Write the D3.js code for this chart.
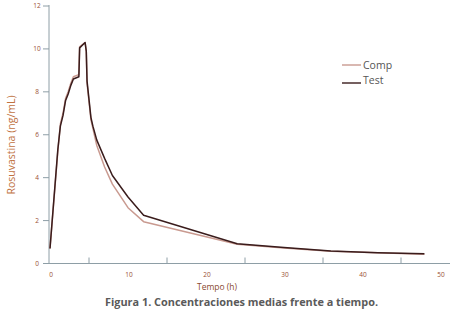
<!DOCTYPE html>
<html>
<head>
<meta charset="utf-8">
<script src="https://cdn.jsdelivr.net/npm/d3@7"></script>
<style>
  body { margin: 0; background: #fff; }
  text { font-family: "Open Sans", "DejaVu Sans", sans-serif; }
</style>
</head>
<body>
<div class="chart"></div>
<script>
var width = 463,
    height = 320;

// tiempos (h) y concentraciones medias (ng/mL)
var times = [0, 1, 1.33, 1.67, 2, 2.33, 2.67, 3, 3.7, 3.8, 4.5, 4.65, 4.75, 5.25, 5.5, 6, 7, 8, 10, 12, 24, 30, 36, 42, 48];
var test  = [0.7, 5.3, 6.4, 6.9, 7.6, 7.9, 8.3, 8.6, 8.7, 10.05, 10.3, 9.9, 8.5, 6.8, 6.4, 5.75, 4.9, 4.1, 3.1, 2.25, 0.92, 0.74, 0.58, 0.5, 0.45];
var comp  = [0.7, 5.2, 6.5, 7.0, 7.7, 8.0, 8.4, 8.7, 8.8, 10.1, 10.3, 9.9, 8.4, 6.7, 6.3, 5.5, 4.5, 3.7, 2.6, 1.95, 0.9, 0.72, 0.57, 0.5, 0.43];

var xLabels = [0, 10, 20, 30, 40, 50];
var xMinor = [5, 15, 25, 35, 45];
var yLabels = [0, 2, 4, 6, 8, 10, 12];

var series = [
  {name: "Comp", values: comp, color: "#c99a90"},
  {name: "Test", values: test, color: "#3a1c1c"}
];

var svg = d3.select(".chart").append("svg")
    .attr("width", width)
    .attr("height", height);

var x = d3.scaleLinear().domain([0, 50]).range([50, 440]);
var y = d3.scaleLinear().domain([0, 12]).range([263.5, 6]);

var axisColor = "#8e9ea6",
    labelColor = "#9a4f32";

// ejes
svg.append("line")
    .attr("x1", x(0) - 1).attr("x2", 450)
    .attr("y1", y(0)).attr("y2", y(0))
    .attr("stroke", axisColor).attr("stroke-width", 1);
svg.append("line")
    .attr("x1", x(0) - 1).attr("x2", x(0) - 1)
    .attr("y1", y(0)).attr("y2", y(12) - 1)
    .attr("stroke", axisColor).attr("stroke-width", 1);

svg.selectAll(".xminor")
    .data(xMinor)
    .enter().append("line")
    .attr("x1", function(d) { return x(d); })
    .attr("x2", function(d) { return x(d); })
    .attr("y1", y(0))
    .attr("y2", y(0) - 6)
    .attr("stroke", axisColor);

svg.selectAll(".xlab")
    .data(xLabels)
    .enter().append("text")
    .attr("x", function(d) { return x(d) + 1; })
    .attr("y", y(0) + 13)
    .attr("text-anchor", "middle")
    .attr("font-size", 6.5)
    .attr("fill", labelColor)
    .text(function(d) { return d; });

svg.selectAll(".ytick")
    .data(yLabels)
    .enter().append("line")
    .attr("x1", x(0) - 7)
    .attr("x2", x(0) - 1)
    .attr("y1", function(d) { return y(d); })
    .attr("y2", function(d) { return y(d); })
    .attr("stroke", axisColor);

svg.selectAll(".ylab")
    .data(yLabels)
    .enter().append("text")
    .attr("x", 37)
    .attr("y", function(d) { return y(d) + 2; })
    .attr("text-anchor", "middle")
    .attr("font-size", 6.5)
    .attr("fill", labelColor)
    .text(function(d) { return d; });

// curvas
var line = d3.line()
    .x(function(d, i) { return x(times[i]); })
    .y(function(d) { return y(d); });

svg.selectAll(".serie")
    .data(series)
    .enter().append("path")
    .attr("fill", "none")
    .attr("stroke", function(d) { return d.color; })
    .attr("stroke-width", 1.5)
    .attr("stroke-linejoin", "round")
    .attr("d", function(d) { return line(d.values); });

// leyenda
var legend = svg.selectAll(".legend")
    .data(series)
    .enter().append("g")
    .attr("transform", function(d, i) { return "translate(342," + (65 + i * 15) + ")"; });
legend.append("line")
    .attr("x1", 0).attr("x2", 19)
    .attr("y1", function(d, i) { return i * 3; })
    .attr("y2", function(d, i) { return i * 3; })
    .attr("stroke", function(d) { return d.color; })
    .attr("stroke-width", 1.4);
legend.append("text")
    .attr("x", 21)
    .attr("y", 4)
    .attr("font-size", 10.5)
    .attr("fill", "#555")
    .text(function(d) { return d.name; });

// titulos
svg.append("text")
    .attr("transform", "translate(15,145) rotate(-90)")
    .attr("text-anchor", "middle")
    .attr("font-size", 10.5)
    .attr("fill", "#c0723f")
    .text("Rosuvastina (ng/mL)");

svg.append("text")
    .attr("x", 217)
    .attr("y", 290)
    .attr("text-anchor", "middle")
    .attr("font-size", 8.5)
    .attr("fill", "#8a4a30")
    .text("Tempo (h)");

svg.append("text")
    .attr("x", 105)
    .attr("y", 306)
    .attr("font-size", 10)
    .attr("font-weight", "bold")
    .attr("fill", "#5a5a5a")
    .attr("textLength", 273)
    .attr("lengthAdjust", "spacingAndGlyphs")
    .text("Figura 1. Concentraciones medias frente a tiempo.");
</script>
</body>
</html>
